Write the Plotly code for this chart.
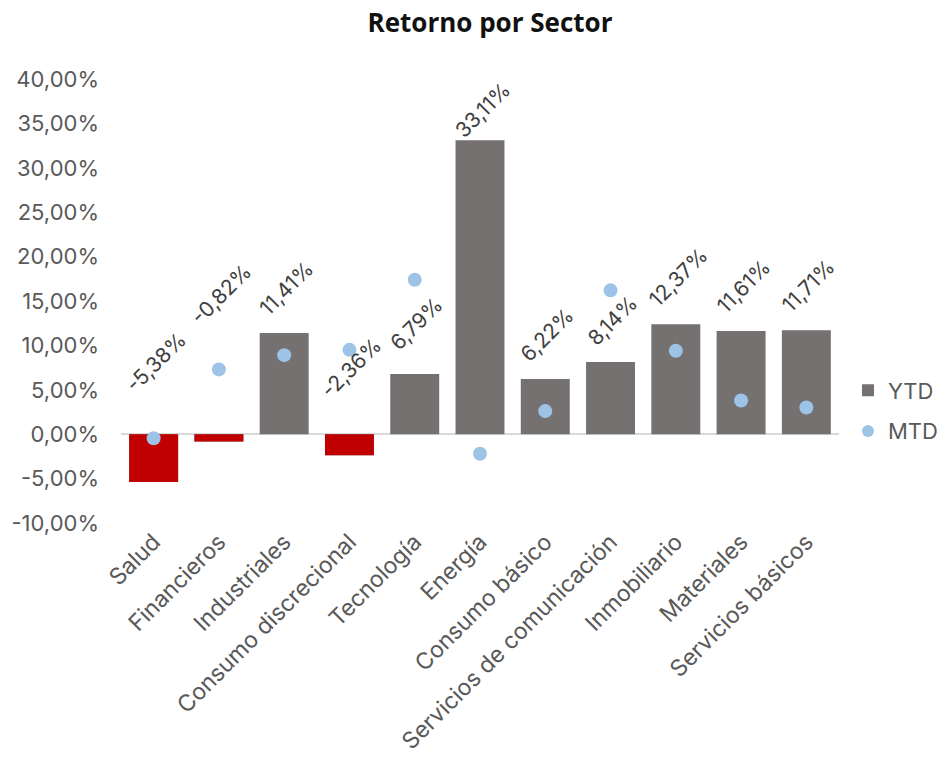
import plotly.graph_objects as go

sectors = ["Salud", "Financieros", "Industriales", "Consumo discrecional", "Tecnología",
           "Energía", "Consumo básico", "Servicios de comunicación", "Inmobiliario",
           "Materiales", "Servicios básicos"]
ytd = [-5.38, -0.82, 11.41, -2.36, 6.79, 33.11, 6.22, 8.14, 12.37, 11.61, 11.71]
mtd = [-0.45, 7.3, 8.9, 9.5, 17.4, -2.2, 2.6, 16.2, 9.4, 3.8, 3.0]
ytd_labels = ["-5,38%", "-0,82%", "11,41%", "-2,36%", "6,79%", "33,11%", "6,22%",
              "8,14%", "12,37%", "11,61%", "11,71%"]
y_ticks = [-10, -5, 0, 5, 10, 15, 20, 25, 30, 35, 40]
y_tick_labels = ["-10,00%", "-5,00%", "0,00%", "5,00%", "10,00%", "15,00%", "20,00%",
                 "25,00%", "30,00%", "35,00%", "40,00%"]

# pixel offsets of the rotated data labels (layout only)
label_shift = [72, 140, 44, 67, 50, 30, 44, 41, 47, 45, 45]

FONT = "Inter"
GRAY = "#767171"
RED = "#C00000"
BLUE = "#9DC3E6"
TXT = "#595959"

fig = go.Figure()
fig.add_trace(go.Bar(x=sectors, y=ytd, name="YTD", marker_color=GRAY, marker_line_width=0,
                     legendgroup="a"))
fig.add_trace(go.Bar(x=sectors, y=[v if v < 0 else None for v in ytd], name="YTD neg",
                     marker_color=RED, marker_line_width=0, showlegend=False,
                     legendgroup="a"))
fig.add_trace(go.Scatter(x=sectors, y=mtd, name="MTD", mode="markers",
                         marker=dict(color=BLUE, size=14), legendgroup="b"))

for s, v, lab, sh in zip(sectors, ytd, ytd_labels, label_shift):
    fig.add_annotation(x=s, y=max(v, 0), text=lab, showarrow=False, textangle=-45,
                       xanchor="center", yanchor="middle", yshift=sh, xshift=2,
                       font=dict(family=FONT, size=21, color="#404040"))

fig.update_layout(
    width=947, height=765,
    paper_bgcolor="white", plot_bgcolor="white",
    barmode="overlay", bargap=0.25,
    margin=dict(l=113, r=116, t=71, b=250),
    title=dict(text="<b>Retorno por Sector</b>", x=0.509, xanchor="center",
               y=1 - 15 / 765, yanchor="middle", xref="container", yref="container",
               font=dict(family="Open Sans", size=26, color="#111111")),
    font=dict(family=FONT, color=TXT),
    legend=dict(xref="container", yref="container", x=0.887, xanchor="left",
                y=1 - 403 / 765, yanchor="middle",
                font=dict(family=FONT, size=22, color=TXT), tracegroupgap=9,
                itemsizing="constant"),
    showlegend=True,
)
fig.update_xaxes(range=[-0.5, len(sectors) - 0.5], tickangle=-45,
                 tickfont=dict(family=FONT, size=23, color=TXT),
                 showline=False, showgrid=False, ticks="", automargin=False)
fig.update_yaxes(range=[-10, 40], tickvals=y_ticks, ticktext=y_tick_labels,
                 tickfont=dict(family=FONT, size=22, color=TXT),
                 showgrid=False, zeroline=True, zerolinecolor="#D9D9D9", zerolinewidth=2,
                 showline=False, ticks="", ticklabelstandoff=21, automargin=False)

fig.write_html("out.html")
